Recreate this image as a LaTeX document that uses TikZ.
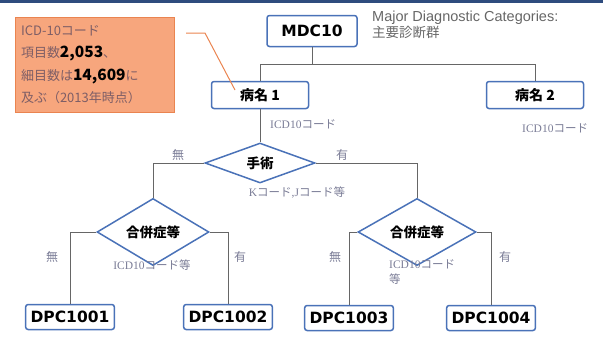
\documentclass[tikz,border=0pt]{standalone}
\usepackage{fontspec}
\setmainfont{DejaVu Sans}
\newfontfamily\jp{Noto Sans CJK JP}
\newfontfamily\arialf{Liberation Sans}
\newfontfamily\timesf{Liberation Serif}
\usetikzlibrary{shapes.geometric}
\definecolor{boxblue}{HTML}{4A72B8}
\definecolor{barblue}{HTML}{2E4C7E}
\definecolor{notefill}{HTML}{F7A67D}
\definecolor{noteedge}{HTML}{EA8450}
\definecolor{notetext}{HTML}{7E5E66}
\definecolor{labgray}{HTML}{7A7C96}
\newcommand\icdcode{{\timesf ICD10}{\jp コード}}
\newcommand\numb{\color{black}\bfseries\fontsize{15.5}{22}\selectfont}
\tikzset{
	codebox/.style={draw=boxblue, line width=1.5pt, rounded corners=2.5pt, fill=white, inner xsep=5pt, inner ysep=0pt, minimum height=25pt, font=\bfseries\fontsize{15.5}{17}\selectfont},
	namebox/.style={codebox, minimum width=97pt, minimum height=27pt, font=\jp\bfseries\fontsize{14}{16}\selectfont},
	choice/.style={diamond, draw=boxblue, line width=1.5pt, fill=white, inner sep=0pt, minimum width=112pt, minimum height=38pt, font=\jp\bfseries\fontsize{13.5}{15}\selectfont},
	notebox/.style={fill=notefill, draw=noteedge, line width=0.8pt, minimum width=159pt, minimum height=95pt, inner sep=0pt, text width=147pt, align=left, text=notetext, font=\jp\fontsize{13}{22.5}\selectfont},
	treeline/.style={draw=black!60, line width=0.7pt},
	codelab/.style={text=labgray, inner sep=0pt, font=\fontsize{11.5}{15}\selectfont},
	yesno/.style={text=labgray, inner sep=0pt, font=\jp\fontsize{12}{14}\selectfont}
}
\begin{document}
\begin{tikzpicture}[x=1pt, y=-1pt]
	\useasboundingbox (0,0) rectangle (603,360);
	\fill[barblue] (0,0) rectangle (603,3);

	\node[notebox] (note) at (94.5,64.5) {ICD-10コード\\項目数{\numb 2,053}、\\細目数は{\numb 14,609}に\\及ぶ（2013年時点）};
	\node[codebox, minimum width=90pt, minimum height=31pt] (mdc) at (312,31) {MDC10};
	\node[anchor=north west, align=left, inner sep=0pt, text=black!60, font=\arialf\fontsize{14.5}{15.5}\selectfont] (mdclab) at (372,11) {Major Diagnostic Categories:\\{\jp\fontsize{13.5}{15.5}\selectfont 主要診断群}};
	\node[namebox] (d1) at (260,95) {病名 1};
	\node[namebox] (d2) at (535,95) {病名 2};
	\node[choice, minimum width=110pt, minimum height=40pt] (op) at (260,163) {手術};
	\node[choice] (cl) at (153,232) {合併症等};
	\node[choice, minimum width=118pt] (cr) at (417,232) {合併症等};
	\node[codebox] (p1) at (70,317) {DPC1001};
	\node[codebox] (p2) at (228,317) {DPC1002};
	\node[codebox] (p3) at (349,318) {DPC1003};
	\node[codebox] (p4) at (491,318) {DPC1004};

	\draw[treeline] (mdc.south) -- ++(0,17) coordinate (fork);
	\draw[treeline] (d1.north) |- (fork) -| (d2.north);
	\draw[treeline] (d1.south) -- (op.north);
	\draw[treeline] (op.west) -| (cl.north);
	\draw[treeline] (op.east) -| (cr.north);
	\draw[treeline] (cl.west) -| (p1.north);
	\draw[treeline] (cl.east) -| (p2.north);
	\draw[treeline] (cr.west) -| (p3.north);
	\draw[treeline] (cr.east) -| (p4.north);

	\node[codelab, anchor=west] (c1) at (270,124) {\icdcode};
	\node[codelab, anchor=west] (c2) at (522,128) {\icdcode};
	\node[codelab] (kj) at (297,193) {{\timesf K}{\jp コード}{\timesf ,J}{\jp コード等}};
	\node[codelab] (c3) at (152,265) {\icdcode{\jp 等}};
	\node[codelab, anchor=north west, align=left] (c4) at (389,259) {\icdcode\\{\jp 等}};
	\node[yesno] (n0) at (178,155) {無};
	\node[yesno] (y0) at (342,155) {有};
	\node[yesno] (n1) at (52,257) {無};
	\node[yesno] (y1) at (240,257) {有};
	\node[yesno] (n2) at (335,257) {無};
	\node[yesno] (y2) at (505,257) {有};

	\coordinate (notetip) at (186,33);
	\coordinate (notebend) at (205,33);
	\draw[noteedge, line width=1pt] (notetip) -- (notebend) -- ([shift={(-25,-5)}]d1.center);
\end{tikzpicture}
\end{document}
